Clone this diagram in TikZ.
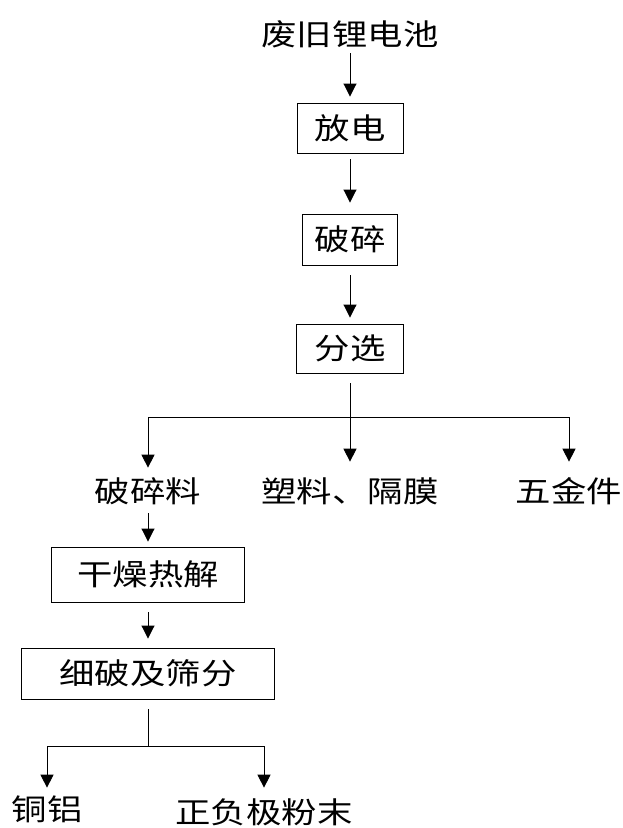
\documentclass[tikz,border=0pt]{standalone}
\usepackage{fontspec}
\newfontfamily\cjk{Noto Sans CJK SC}[FakeStretch=1.2]
\usetikzlibrary{arrows.meta}
\begin{document}
\begin{tikzpicture}[x=1pt,y=-1pt,
  lbl/.style={inner sep=0pt, font=\cjk\fontsize{29.5}{29.5}\selectfont, text height=24.8pt, text depth=2.3pt},
  stagebox/.style={lbl, draw, line width=0.9pt},
  ln/.style={line width=0.9pt},
  arr/.style={line width=0.9pt, -{Triangle[width=13pt,length=13pt]}}]
\fill[white] (0,0) rectangle (622,828);
\useasboundingbox (0,0) rectangle (622,828);

\node[lbl] (src) at (350,34.5) {废旧锂电池};
\node[stagebox, minimum width=106pt, minimum height=50pt] (fd) at (350,128) {放电};
\node[stagebox, minimum width=95pt, minimum height=51pt] (ps) at (350,239.5) {破碎};
\node[stagebox, minimum width=107pt, minimum height=49pt] (fx) at (350,348.5) {分选};
\node[lbl] (psl) at (148,491) {破碎料};
\node[lbl] (sl) at (350,491) {塑料、隔膜};
\node[lbl] (wj) at (569,491) {五金件};
\node[stagebox, minimum width=193pt, minimum height=55pt] (gz) at (148,574.5) {干燥热解};
\node[stagebox, minimum width=253pt, minimum height=51pt] (xp) at (148,673.5) {细破及筛分};
\node[lbl] (tl) at (47,809) {铜铝};
\node[lbl] (zf) at (264,812) {正负极粉末};

\coordinate (f1) at (350,417);
\coordinate (f2) at (148,746);

\draw[arr, shorten <=5pt, shorten >=6pt] (src.south) -- (fd.north);
\draw[arr, shorten <=6pt, shorten >=11pt] (fd.south) -- (ps.north);
\draw[arr, shorten <=10pt, shorten >=6pt] (ps.south) -- (fx.north);
\draw[ln, shorten <=10pt] (fx.south) -- (f1);
\draw[arr, shorten >=15.6pt] (f1) -- (sl.north);
\draw[arr, shorten >=9.6pt] (f1) -| (psl.north);
\draw[arr, shorten >=15.6pt] (f1) -| (wj.north);
\draw[arr, shorten <=8.6pt, shorten >=5pt] (psl.south) -- (gz.north);
\draw[arr, shorten <=10pt, shorten >=9pt] (gz.south) -- (xp.north);
\draw[ln, shorten <=10pt] (xp.south) -- (f2);
\draw[arr, shorten >=7.6pt] (f2) -| (tl.north);
\draw[arr, shorten >=10.6pt] (f2) -| (zf.north);
\end{tikzpicture}
\end{document}
